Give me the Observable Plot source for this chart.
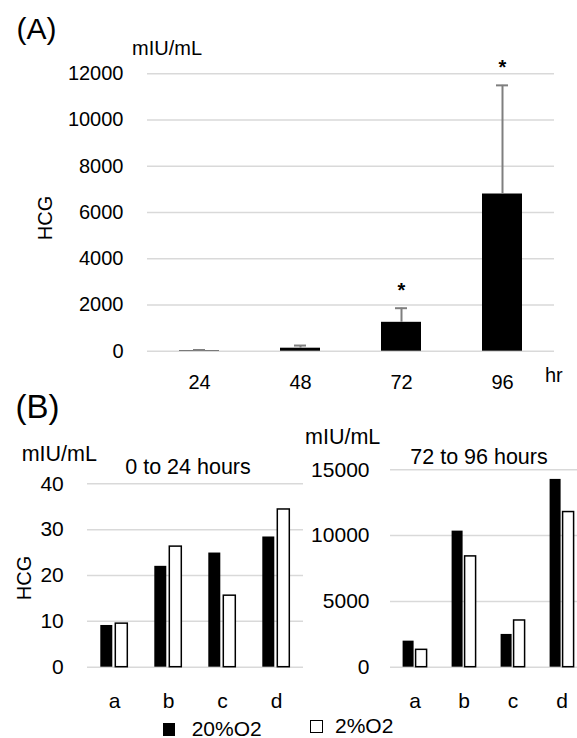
<!DOCTYPE html>
<html>
<head>
<meta charset="utf-8">
<script src="https://cdn.jsdelivr.net/npm/d3@7"></script>
<script src="https://cdn.jsdelivr.net/npm/@observablehq/plot@0.6"></script>
<style>
  html, body { margin: 0; padding: 0; background: #fff; overflow: hidden; }
  #page { position: relative; width: 577px; height: 738px; overflow: hidden; background: #fff;
          font-family: "Liberation Sans", Arial, Helvetica, sans-serif; color: #000; }
  .lbl { position: absolute; line-height: 1; white-space: nowrap; }
  .chart { position: absolute; }
  .sq { position: absolute; box-sizing: border-box; }
</style>
</head>
<body>
<div id="page"></div>
<script>
// ---------- Data ----------
// Panel A: HCG over time (mean + error), 20% O2
const hoursA = ["24", "48", "72", "96"];
const meanA = [21, 130, 1250, 6800];
const errA = [30, 115, 610, 4700];
const sigA = ["", "", "*", "*"];
const yTicksA = [0, 2000, 4000, 6000, 8000, 10000, 12000];

// Panel B
const catsB = ["a", "b", "c", "d"];
const seriesB = ["20%O2", "2%O2"];
const left20 = [9.1, 22.0, 24.9, 28.4];
const left2 = [9.5, 26.3, 15.6, 34.4];
const right20 = [1980, 10340, 2490, 14270];
const right2 = [1320, 8420, 3550, 11790];
const yTicksBL = [0, 10, 20, 30, 40];
const yTicksBR = [0, 5000, 10000, 15000];

// ---------- Build tables ----------
const dataA = hoursA.map((h, i) => ({hour: h, mean: meanA[i], err: errA[i], sig: sigA[i]}));
const makeB = (s20, s2) => catsB.flatMap((c, i) => [
  {cat: c, series: seriesB[0], value: s20[i]},
  {cat: c, series: seriesB[1], value: s2[i]}
]);
const dataBL = makeB(left20, left2);
const dataBR = makeB(right20, right2);

const FONT = '"Liberation Sans", Arial, Helvetica, sans-serif';
const baseStyle = (fs) => ({fontFamily: FONT, fontSize: fs + "px", color: "#000", background: "none", overflow: "visible", maxWidth: "none"});
const GRID = "#d9d9d9";

const page = document.getElementById("page");
function place(el, left, top) {
  const w = document.createElement("div");
  w.className = "chart";
  w.style.left = left + "px";
  w.style.top = top + "px";
  w.appendChild(el);
  page.appendChild(w);
}
function label(text, x, y, size, anchor = "middle", rotate = false) {
  const d = document.createElement("div");
  d.className = "lbl";
  d.textContent = text;
  d.style.fontSize = size + "px";
  d.style.left = x + "px";
  d.style.top = y + "px";
  const tx = anchor === "middle" ? "-50%" : anchor === "end" ? "-100%" : "0";
  d.style.transform = `translate(${tx}, -50%)` + (rotate ? " rotate(-90deg)" : "");
  page.appendChild(d);
}

// ---------- Panel A ----------
const chartA = Plot.plot({
  width: 577, height: 400,
  marginTop: 73.3, marginBottom: 49.3, marginLeft: 147, marginRight: 23,
  style: baseStyle(20),
  x: {type: "band", domain: hoursA, paddingInner: 0.6, paddingOuter: 0.3, tickSize: 0, tickPadding: 24, label: null},
  y: {domain: [0, 12000], ticks: yTicksA, tickSize: 0, tickPadding: 24, label: null, tickFormat: d => String(d)},
  marks: [
    Plot.ruleY(yTicksA, {stroke: GRID, strokeWidth: 1.5}),
    Plot.barY(dataA, {x: "hour", y: "mean", fill: "#000"}),
    Plot.ruleX(dataA, {x: "hour", y1: "mean", y2: d => d.mean + d.err, stroke: "#7f7f7f", strokeWidth: 2}),
    Plot.tickY(dataA, {x: "hour", y: d => d.mean + d.err, stroke: "#7f7f7f", strokeWidth: 2, insetLeft: 14, insetRight: 14}),
    Plot.text(dataA.filter(d => d.sig), {x: "hour", y: d => d.mean + d.err, text: "sig", dy: -18, fontSize: 20, fontWeight: "bold"})
  ]
});
place(chartA, 0, 0);

// ---------- Panel B helper ----------
function panelB(data, ticks, domainMax, opts) {
  return Plot.plot({
    width: opts.width, height: 358,
    marginTop: opts.mt, marginBottom: 71.3, marginLeft: opts.ml, marginRight: opts.mr,
    style: baseStyle(21),
    facet: {data, x: "cat"},
    fx: {domain: catsB, padding: 0, tickSize: 0, tickPadding: 26, label: null, axis: "bottom"},
    x: {domain: seriesB, paddingInner: opts.pi, paddingOuter: opts.po, axis: null},
    y: {domain: [0, domainMax], ticks, tickSize: 0, tickPadding: opts.tp, label: null, tickFormat: d => String(d)},
    marks: [
      Plot.ruleY(ticks, {stroke: GRID, strokeWidth: 1.5}),
      Plot.barY(data, {filter: d => d.series === seriesB[0], x: "series", y: "value", fill: "#000"}),
      Plot.barY(data, {filter: d => d.series === seriesB[1], x: "series", y: "value", fill: "#fff", stroke: "#000", strokeWidth: 1.5})
    ]
  });
}

const chartBL = panelB(dataBL, yTicksBL, 40, {width: 310, mt: 103.3, ml: 86.7, mr: 6.7, pi: 0.23, po: 0.807, tp: 23.7});
place(chartBL, 0, 380);
const chartBR = panelB(dataBR, yTicksBR, 15000, {width: 320, mt: 89.3, ml: 109.4, mr: 13.3, pi: 0.18, po: 0.88, tp: 21});
place(chartBR, 280, 380);

// ---------- Text labels ----------
label("(A)", 36.5, 28.5, 30);
label("mIU/mL", 132, 47.5, 20, "start");
label("HCG", 45, 217.5, 20, "middle", true);
label("hr", 545, 375, 20, "start");

label("(B)", 37.5, 406, 33);
label("mIU/mL", 21.7, 455, 21.5, "start");
label("0 to 24 hours", 188, 468, 21.5);
label("HCG", 24, 577.5, 20, "middle", true);
label("mIU/mL", 305, 438, 21.5, "start");
label("72 to 96 hours", 479, 458, 21.5);

// Legend
function square(x, y, w, h, filled) {
  const s = document.createElement("div");
  s.className = "sq";
  s.style.left = x + "px"; s.style.top = y + "px";
  s.style.width = w + "px"; s.style.height = h + "px";
  s.style.background = filled ? "#000" : "#fff";
  s.style.border = "1.5px solid #000";
  page.appendChild(s);
}
square(163.3, 723.3, 12, 12.7, true);
label(seriesB[0], 191.7, 728, 21, "start");
square(310, 720, 13.3, 12.7, false);
label(seriesB[1], 335, 725, 21, "start");
</script>
</body>
</html>
